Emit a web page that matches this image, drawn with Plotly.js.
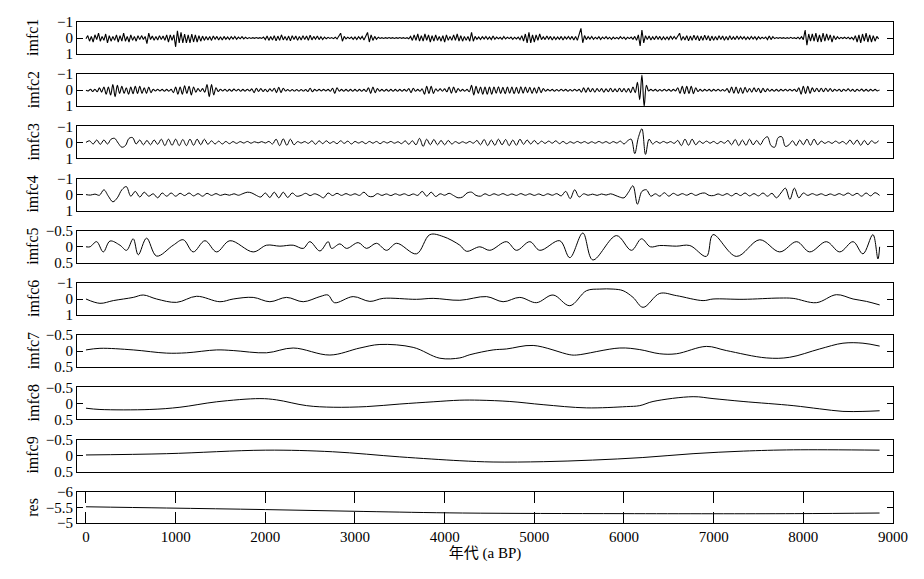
<!DOCTYPE html>
<html><head><meta charset="utf-8">
<script src="https://cdn.plot.ly/plotly-3.0.1.min.js"></script>
<style>html,body{margin:0;padding:0;background:#fff}#chart{width:924px;height:579px}</style>
</head><body><div id="chart"></div>
<script>
// ---------- DATA ----------
const panelNames = ["imfc1","imfc2","imfc3","imfc4","imfc5","imfc6","imfc7","imfc8","imfc9","res"];
const xTickVals = [0,1000,2000,3000,4000,5000,6000,7000,8000,9000];
const xTitle = "年代 (a BP)";
const ticksUnit = [-1,0,1];      const ticksUnitText = ["\u22121","0","1"];
const ticksHalf = [-0.5,0,0.5];  const ticksHalfText = ["\u22120.5","0","0.5"];
const ticksRes = [-6,-5.5,-5];   const ticksResText = ["\u22126","\u22125.5","\u22125"];

// imfc1: sampled every 20 a from 0 a
const imfc1Start = 0, imfc1Step = 20;
const imfc1 = [
0.05,-0.15,0.2,-0.1,0.25,-0.2,0.1,-0.3,0.2,-0.1,0.15,-0.25,0.3,-0.15,0.2,
-0.1,0.15,-0.2,0.25,-0.15,0.2,-0.3,0.2,-0.1,0.25,-0.2,0.15,-0.1,0.2,-0.15,
0.1,-0.15,0.1,-0.1,0.35,-0.3,0.1,-0.12,0.15,-0.1,0.12,-0.15,0.1,-0.12,0.15,
-0.2,0.25,-0.2,0.15,-0.2,0.55,-0.45,0.3,-0.35,0.3,-0.25,0.3,-0.2,0.3,-0.25,
0.25,-0.2,0.25,-0.15,0.2,-0.12,0.15,-0.1,0.12,-0.1,0.15,-0.12,0.08,-0.1,0.12,
-0.08,0.12,-0.1,0.08,-0.06,0.1,-0.08,0.06,-0.1,0.08,-0.06,0.05,-0.08,0.06,-0.05,
0.04,-0.03,0.03,-0.02,0.02,-0.03,0.02,-0.02,0.03,-0.06,0.1,-0.12,0.15,-0.1,0.12,
-0.15,0.18,-0.12,0.15,-0.2,0.12,-0.1,0.15,-0.12,0.18,-0.15,0.1,-0.12,0.15,-0.1,
0.12,-0.15,0.1,-0.12,0.15,-0.18,0.12,-0.1,0.08,-0.12,0.1,-0.08,0.1,-0.06,0.05,
-0.04,0.03,-0.03,0.04,-0.05,0.06,-0.1,-0.3,0.2,-0.1,0.06,-0.05,0.04,-0.06,0.08,
-0.06,0.1,-0.08,0.06,-0.1,0.12,-0.1,-0.35,0.25,-0.2,0.15,-0.1,0.08,-0.05,0.03,
-0.02,0.03,-0.02,0.02,-0.03,0.02,-0.02,0.03,-0.02,0.02,-0.03,0.02,-0.02,0.03,-0.02,
0.05,-0.1,0.15,-0.2,0.15,-0.25,0.2,-0.15,0.2,-0.25,0.15,-0.2,0.25,-0.15,0.2,
-0.2,0.15,-0.1,0.2,-0.15,0.25,-0.2,0.15,-0.1,0.15,-0.2,0.15,-0.25,0.2,-0.15,
0.2,-0.1,0.15,-0.1,0.2,-0.35,0.2,-0.1,0.08,-0.06,0.1,-0.08,0.06,-0.1,0.08,
-0.06,0.1,-0.12,0.08,-0.06,0.05,-0.04,0.08,-0.1,0.06,-0.05,0.04,-0.06,0.08,-0.05,
0.06,-0.05,0.1,-0.15,0.2,-0.25,0.3,-0.35,0.3,-0.2,0.25,-0.2,0.15,-0.25,0.1,
-0.08,0.1,-0.12,0.08,-0.1,0.12,-0.08,0.1,-0.06,0.08,-0.1,0.12,-0.08,0.06,-0.1,
0.08,-0.1,0.12,-0.1,0.15,-0.2,-0.6,0.3,-0.15,0.1,-0.08,0.06,-0.1,0.08,-0.05,
0.06,-0.08,0.1,-0.06,0.05,-0.08,0.06,-0.05,0.08,-0.06,0.05,-0.04,0.06,-0.08,0.05,
-0.06,0.08,-0.05,0.04,-0.06,0.08,-0.1,0.15,-0.2,0.5,-0.5,0.3,-0.15,0.1,-0.12,
0.12,-0.08,0.1,-0.12,0.08,-0.1,0.12,-0.08,0.1,-0.06,0.1,-0.12,0.08,-0.1,0.06,
-0.1,-0.3,0.15,-0.1,0.12,-0.15,0.18,-0.12,0.15,-0.18,0.12,-0.15,0.18,-0.12,0.15,
-0.18,0.12,-0.15,0.18,-0.12,0.15,-0.1,0.12,-0.15,0.1,-0.12,0.15,-0.1,0.12,-0.15,
0.1,-0.08,0.1,-0.12,0.08,-0.1,0.06,-0.08,0.1,-0.06,0.08,-0.1,0.06,-0.08,0.1,
-0.08,0.06,-0.05,0.04,-0.06,0.1,-0.12,0.1,-0.08,0.04,-0.03,0.02,-0.03,0.02,-0.02,
0.03,-0.02,0.03,-0.04,0.03,-0.02,0.04,-0.05,0.06,-0.08,0.1,-0.5,0.45,-0.25,0.2,
-0.25,0.2,-0.3,0.25,-0.2,0.25,-0.3,0.2,-0.25,0.15,-0.2,0.25,-0.15,0.1,-0.08,
0.05,-0.04,0.03,-0.05,0.04,-0.05,0.06,-0.04,0.1,-0.15,0.25,-0.2,0.3,-0.25,0.2,
-0.3,0.25,-0.2,0.25,-0.15,0.2,-0.1,0.05];

// imfc2: sampled every 25 a
const imfc2Start = 0, imfc2Step = 25;
const imfc2 = [
0,0.04,-0.06,0.08,-0.06,0.1,-0.15,0.12,-0.2,0.25,-0.2,0.3,
-0.35,0.4,-0.3,0.2,-0.25,0.2,-0.15,0.25,-0.2,0.22,-0.25,0.2,
-0.25,0.2,-0.15,0.2,-0.2,0.15,-0.06,0.05,-0.06,0.04,-0.05,0.06,
-0.05,0.06,-0.05,0.15,-0.2,0.25,-0.2,0.25,-0.28,0.2,-0.25,0.3,
-0.2,0.12,-0.1,0.08,-0.1,0.12,-0.35,0.4,-0.35,0.3,-0.15,0.08,
-0.06,0.05,-0.06,0.07,-0.05,0.06,-0.07,0.05,-0.06,0.07,-0.05,0.06,
-0.06,0.05,-0.08,0.15,-0.12,0.08,-0.1,0.08,-0.06,0.1,-0.08,0.06,
-0.12,0.15,-0.18,0.15,-0.12,0.05,-0.04,0.05,-0.04,0.05,-0.04,0.05,
-0.04,0.05,-0.04,0.08,-0.12,0.1,-0.05,0.04,-0.05,0.04,-0.05,0.04,
-0.05,0.06,-0.12,0.2,-0.15,0.06,-0.05,0.06,-0.05,0.06,-0.05,0.06,
-0.05,0.06,-0.05,0.06,-0.05,0.08,-0.15,0.2,-0.2,0.15,-0.1,0.06,
-0.05,0.06,-0.05,0.06,-0.05,0.06,-0.05,0.06,-0.05,0.06,-0.05,0.06,
-0.1,0.15,-0.12,0.06,-0.05,0.06,-0.08,0.25,-0.25,0.2,-0.25,0.2,
-0.08,0.06,-0.08,0.06,-0.08,0.1,-0.2,0.18,-0.2,0.15,-0.1,0.06,
-0.05,0.06,-0.05,0.1,-0.3,0.3,-0.25,0.2,-0.2,0.25,-0.2,0.25,
-0.2,0.25,-0.2,0.18,-0.22,0.2,-0.18,0.22,-0.2,0.18,-0.2,0.22,
-0.18,0.2,-0.22,0.18,-0.2,0.15,-0.18,0.2,-0.15,0.18,-0.2,0.15,
-0.1,0.06,-0.05,0.04,-0.05,0.06,-0.04,0.05,-0.06,0.04,-0.05,0.06,
-0.04,0.05,-0.06,0.04,-0.05,0.12,-0.15,0.12,-0.15,0.1,-0.1,0.12,
-0.1,0.08,-0.1,0.12,-0.08,0.1,-0.12,0.1,-0.08,0.1,-0.12,0.1,
-0.1,0.12,-0.1,0.15,-0.2,0.15,-0.5,0.6,-0.95,1.0,-0.3,0.05,
-0.05,0.04,-0.05,0.06,-0.04,0.05,-0.06,0.04,-0.05,0.06,-0.05,0.04,
-0.15,0.2,-0.25,0.22,-0.25,0.2,-0.25,0.22,-0.15,0.08,-0.05,0.06,
-0.05,0.04,-0.05,0.06,-0.05,0.04,-0.06,0.05,-0.04,0.05,-0.1,0.15,
-0.2,0.18,-0.2,0.2,-0.15,0.2,-0.18,0.12,-0.1,0.12,-0.15,0.1,
-0.12,0.15,-0.12,0.1,-0.08,0.06,-0.05,0.06,-0.05,0.06,-0.05,0.04,
-0.06,0.05,-0.06,0.04,-0.06,0.08,-0.15,0.25,-0.25,0.2,-0.25,0.2,
-0.15,0.1,-0.12,0.1,-0.12,0.1,-0.12,0.08,-0.1,0.08,-0.06,0.05,
-0.06,0.08,-0.06,0.05,-0.08,0.06,-0.05,0.08,-0.06,0.05,-0.07,0.06,
-0.05,0.06,-0.05,0.04,-0.05,0.04,-0.02];

// imfc3: sampled every 40 a
const imfc3Start = 0, imfc3Step = 40;
const imfc3 = [
0,-0.1,0.1,-0.15,0.12,-0.15,0.1,-0.2,-0.25,0.05,
0.3,0.2,-0.25,-0.3,0.1,-0.15,0.15,-0.12,0.15,-0.15,
0.12,-0.2,0.2,-0.2,0.18,-0.2,0.2,-0.18,0.2,-0.2,
0.18,-0.2,0.15,-0.2,0.12,-0.1,0.1,-0.08,0.1,-0.06,
0.08,-0.05,0.06,-0.05,0.04,-0.06,0.05,-0.04,0.03,-0.05,
0.04,-0.06,0.1,-0.2,0.2,-0.22,0.18,-0.2,0.15,-0.05,
0.04,-0.05,0.06,-0.1,0.12,-0.1,0.08,-0.1,0.06,-0.05,
0.08,-0.1,0.06,-0.08,0.1,-0.06,0.04,-0.05,0.08,-0.06,
0.05,-0.06,0.08,-0.05,0.04,-0.06,0.05,-0.04,0.08,-0.1,
0.12,-0.1,0.15,-0.25,0.25,-0.2,0.15,-0.18,0.15,-0.12,
0.15,-0.12,0.1,-0.05,0.06,-0.04,0.05,-0.06,0.05,-0.12,
0.15,-0.18,0.2,-0.15,0.18,-0.2,0.15,-0.18,0.2,-0.15,
0.18,-0.2,0.12,-0.15,0.1,-0.12,0.1,-0.08,0.06,-0.08,
0.05,-0.1,0.08,-0.06,0.08,-0.04,0.05,-0.06,0.04,-0.05,
0.06,-0.04,0.05,-0.06,0.04,-0.05,0.06,-0.05,0.04,-0.08,
0.1,-0.1,-0.2,0.7,-0.3,-0.85,0.75,-0.2,0.1,-0.06,
0.05,-0.06,0.04,-0.05,0.06,-0.12,0.2,-0.2,0.18,-0.2,
0.15,-0.08,0.06,-0.08,0.05,-0.06,0.08,-0.06,0.05,-0.12,
0.15,-0.18,0.2,-0.15,0.18,-0.2,0.15,-0.12,0.15,-0.2,
-0.35,0.2,0.3,-0.3,-0.35,0.25,0.15,-0.1,0.2,-0.15,
0.15,-0.2,0.18,-0.2,0.15,-0.08,0.06,-0.05,0.06,-0.08,
0.05,-0.06,0.1,-0.15,0.12,-0.15,0.18,-0.12,0.15,-0.1,
0.05,-0.1];

// imfc4: sampled every 50 a
const imfc4Start = 0, imfc4Step = 50;
const imfc4 = [
0,0.03,-0.03,0.04,-0.3,0.1,0.45,0.2,-0.3,-0.5,
0.1,-0.2,0.15,-0.15,0.1,-0.05,0.2,-0.1,0.1,-0.1,
0.1,-0.08,0.06,-0.1,0.08,-0.06,0.1,-0.08,0.05,-0.06,
0.05,-0.03,0.04,-0.05,0.04,-0.06,-0.15,-0.1,0.05,0.15,
-0.1,0.18,-0.15,0.2,-0.15,0.18,-0.1,0.1,0.05,-0.08,
0.06,-0.05,0.05,0.2,-0.1,0.06,-0.08,0.05,-0.06,0.04,
-0.05,0.05,-0.15,0.1,0.12,-0.06,0.05,-0.04,0.06,-0.05,
0.04,-0.05,0.06,-0.04,0.05,-0.2,0.1,-0.15,0.12,-0.05,
0.04,-0.08,0.06,0.2,0.15,-0.1,-0.15,0.05,0.1,-0.05,
0.06,-0.05,0.04,-0.06,0.05,-0.04,0.05,-0.06,0.04,-0.05,
0.05,-0.04,0.06,-0.05,0.04,-0.06,0.08,-0.2,0.25,-0.3,
0.15,-0.05,0.04,-0.03,0.05,-0.04,0.03,-0.05,0.04,0.15,
0.2,-0.15,-0.55,0.6,-0.2,-0.3,0.1,-0.05,0.1,-0.12,
0.1,-0.08,0.05,-0.06,0.04,-0.08,0.05,-0.06,-0.1,0.05,
0.06,-0.04,0.05,-0.06,0.08,-0.08,0.06,-0.1,0.08,-0.06,
0.08,-0.1,0.1,-0.08,0.2,-0.1,-0.4,0.3,-0.4,0.2,
-0.1,0.05,-0.06,0.04,-0.05,0.06,-0.04,0.05,-0.06,0.04,
-0.1,0.05,-0.08,0.1,-0.1,0.08,-0.12,0.05];

// imfc5..res: (age, value) pairs read at turning points
const imfc5Age = [0,45,119,193,268,379,453,527,583,676,788,973,1085,1196,1327,1457,1605,1865,2014,2163,2311,2423,2497,2609,2701,2739,2832,2906,3036,3129,3240,3352,3464,3686,3835,3984,4169,4244,4392,4504,4690,4801,4950,5061,5284,5396,5541,5652,5916,6083,6195,6294,6399,6585,6734,6919,6993,7253,7514,7737,7926,8071,8257,8406,8555,8665,8776,8832,8851];
const imfc5 = [0,0,-0.16,0.16,-0.18,-0.05,0.11,-0.25,0.25,-0.27,0.29,-0.05,-0.22,0.16,-0.19,0.16,-0.19,0.16,-0.05,-0.02,-0.05,0.05,-0.16,0.13,-0.16,0.05,-0.09,0.05,-0.13,0.05,-0.11,0.11,-0.11,0.22,-0.38,-0.32,-0.05,0.14,0,0.11,-0.16,0.11,-0.16,0.11,-0.19,0.34,-0.43,0.41,-0.35,0.11,-0.25,0,-0.04,-0.02,-0.04,0.30,-0.38,0.30,-0.22,0.16,-0.16,0.16,-0.16,0.16,-0.16,0.22,-0.38,0.38,0];

const imfc6Age = [0,156,305,527,639,788,1011,1234,1494,1642,1865,2051,2237,2423,2609,2700,2770,2980,3166,3315,3686,3872,4169,4467,4652,4838,5024,5209,5396,5582,5730,5879,5990,6101,6213,6399,6585,6882,6993,7328,7737,7886,8146,8369,8555,8704,8851];
const imfc6 = [0,0.27,0.10,-0.10,-0.25,0,0.21,-0.17,0.17,0,-0.10,0.17,-0.10,0.17,-0.15,-0.25,0.23,-0.15,0.15,-0.04,0.02,-0.04,0.08,-0.15,0.17,-0.10,0.23,-0.25,0.42,-0.52,-0.62,-0.62,-0.52,-0.10,0.52,-0.35,-0.21,0.10,0,0.02,-0.06,-0.04,0.23,-0.27,0,0.15,0.37];

const imfc7Age = [0,156,527,899,1122,1457,1642,2014,2311,2720,3055,3278,3649,3947,4169,4281,4541,4690,4987,5396,5470,5953,6176,6399,6585,6919,7141,7587,7848,8182,8442,8665,8851];
const imfc7 = [-0.04,-0.09,-0.04,0.06,0.05,-0.04,-0.02,0.05,-0.10,0.12,-0.10,-0.21,-0.12,0.22,0.21,0.11,-0.04,-0.07,-0.18,0.11,0.12,-0.10,-0.05,0.08,0.08,-0.15,-0.02,0.21,0.19,-0.07,-0.25,-0.25,-0.16];

const imfc8Age = [0,156,713,1048,1457,1940,2126,2460,2757,3129,3501,3872,4169,4392,4727,5098,5582,6027,6176,6324,6771,6993,7328,7886,8182,8442,8665,8851];
const imfc8 = [0.15,0.19,0.19,0.12,-0.05,-0.15,-0.11,0.07,0.12,0.10,0.02,-0.05,-0.10,-0.10,-0.06,0.04,0.14,0.10,0.07,-0.06,-0.21,-0.15,-0.06,0.07,0.17,0.25,0.25,0.23];

const imfc9Age = [0,900,2000,2750,3500,4170,4540,5100,5650,6210,6770,7330,7890,8850];
const imfc9 = [-0.02,-0.06,-0.17,-0.12,0.04,0.16,0.20,0.19,0.14,0.06,-0.06,-0.14,-0.18,-0.17];

const resAge = [0,900,2000,3100,4200,6000,7900,8850];
const res = [-5.52,-5.48,-5.43,-5.37,-5.32,-5.30,-5.30,-5.32];

// ---------- BUILD ----------
function grid(start, step, n){ const a=[]; for(let i=0;i<n;i++) a.push(start+i*step); return a; }
const seriesX = [
  grid(imfc1Start, imfc1Step, imfc1.length),
  grid(imfc2Start, imfc2Step, imfc2.length),
  grid(imfc3Start, imfc3Step, imfc3.length),
  grid(imfc4Start, imfc4Step, imfc4.length),
  imfc5Age, imfc6Age, imfc7Age, imfc8Age, imfc9Age, resAge];
const seriesY = [imfc1, imfc2, imfc3, imfc4, imfc5, imfc6, imfc7, imfc8, imfc9, res];
const shapes = ["linear","spline","spline","spline","spline","spline","spline","spline","spline","spline"];
const yTickSets = [
  [ticksUnit,ticksUnitText],[ticksUnit,ticksUnitText],[ticksUnit,ticksUnitText],[ticksUnit,ticksUnitText],
  [ticksHalf,ticksHalfText],[ticksUnit,ticksUnitText],[ticksHalf,ticksHalfText],[ticksHalf,ticksHalfText],
  [ticksHalf,ticksHalfText],[ticksRes,ticksResText]];

const FONT = "'Liberation Serif','Times New Roman','Noto Sans CJK SC',serif";
const W = 924, H = 579, mL = 77, mR = 31, mT = 22, mB = 56;
const plotH = H - mT - mB;
const panelPitch = 52.2, panelH = 32;

const traces = [];
const layout = {
  width: W, height: H,
  margin: {l: mL, r: mR, t: mT, b: mB},
  paper_bgcolor: '#fff', plot_bgcolor: '#fff',
  showlegend: false,
  font: {family: FONT, size: 15, color: '#000'},
  annotations: []
};

for (let i = 0; i < panelNames.length; i++) {
  const suf = i === 0 ? '' : String(i + 1);
  const top = i * panelPitch;
  const d1 = 1 - top / plotH, d0 = 1 - (top + panelH) / plotH;
  const last = i === panelNames.length - 1;
  traces.push({
    x: seriesX[i], y: seriesY[i], xaxis: 'x' + suf, yaxis: 'y' + suf,
    type: 'scatter', mode: 'lines',
    line: {color: '#000', width: i < 2 ? 1.1 : 1, shape: shapes[i], smoothing: 1},
    hoverinfo: 'skip'
  });
  const tv = yTickSets[i][0];
  layout['xaxis' + suf] = {
    domain: [0, 1], anchor: 'y' + suf, range: [-100, 9000],
    showline: true, linecolor: '#000', linewidth: 1,
    mirror: last ? 'ticks' : true,
    showgrid: false, zeroline: false,
    ticks: last ? 'inside' : '', ticklen: 11, tickcolor: '#000', tickwidth: 1,
    tickvals: xTickVals, showticklabels: last,
    tickfont: {family: FONT, size: 15, color: '#000'},
    ticklabelstandoff: 0,
    title: last ? {text: xTitle, font: {family: FONT, size: 15, color: '#000'}, standoff: 0} : {text: ''}
  };
  layout['yaxis' + suf] = {
    domain: [d0, d1], anchor: 'x' + suf,
    range: [tv[tv.length - 1], tv[0]],
    showline: true, linecolor: '#000', linewidth: 1, mirror: 'ticks',
    showgrid: false, zeroline: false,
    ticks: 'inside', ticklen: 6, tickcolor: '#000', tickwidth: 1,
    tickvals: tv, ticktext: yTickSets[i][1],
    tickfont: {family: FONT, size: 15, color: '#000'}
  };
  layout.annotations.push({
    text: panelNames[i], xref: 'paper', yref: 'paper',
    x: (33 - mL) / (W - mL - mR), y: (d0 + d1) / 2,
    xanchor: 'center', yanchor: 'middle', textangle: -90, showarrow: false,
    font: {family: FONT, size: 16, color: '#000'}
  });
}

Plotly.newPlot('chart', traces, layout, {staticPlot: true, displayModeBar: false});
</script>
</body></html>
